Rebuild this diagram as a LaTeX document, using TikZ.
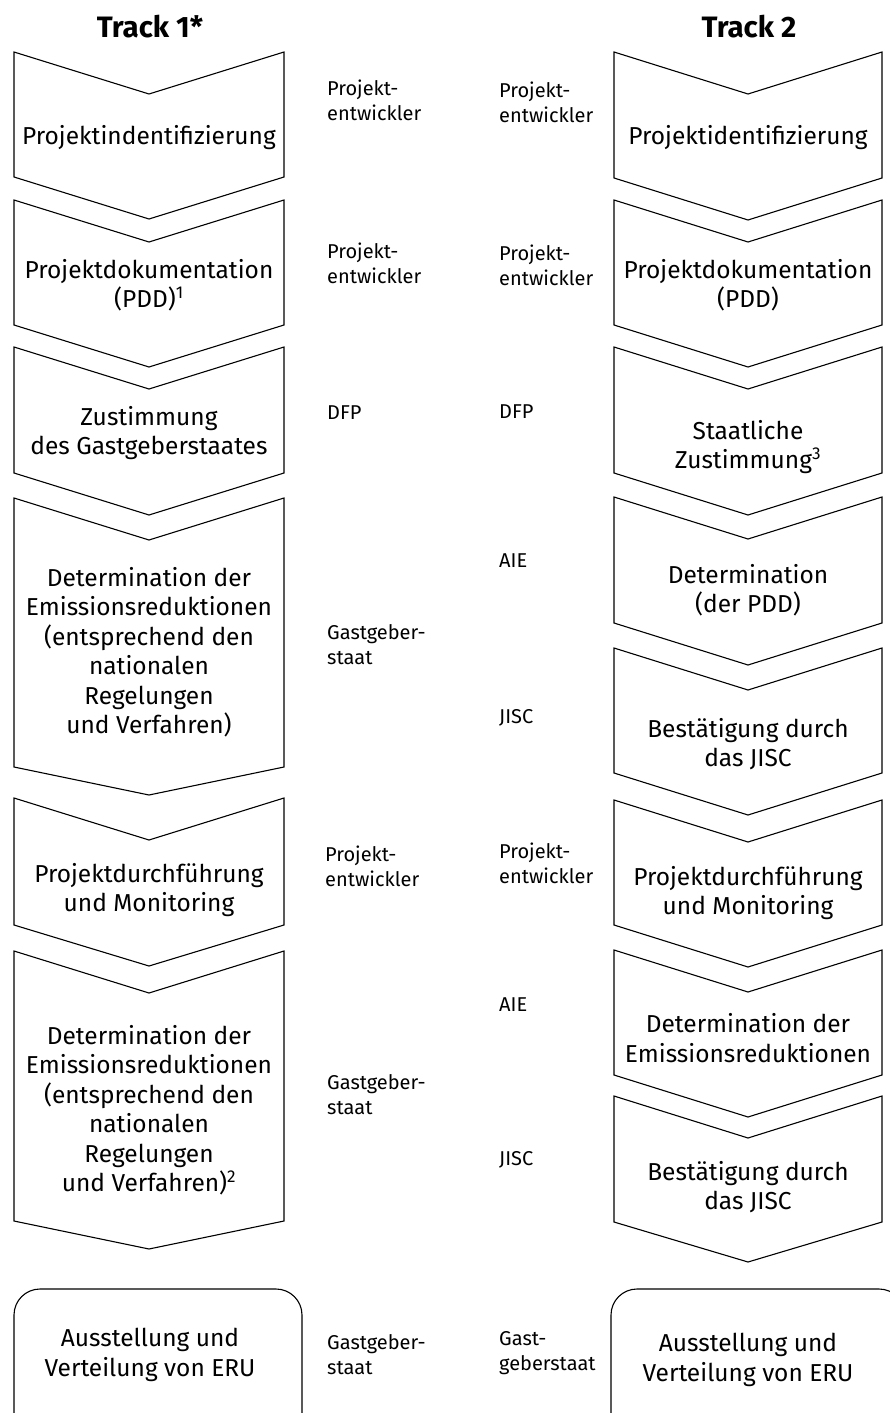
\documentclass[tikz,border=0pt]{standalone}
\usepackage{fontspec}
\setmainfont{Fira Sans}
\begin{document}
\begin{tikzpicture}[x=1pt,y=-1pt,
  stage/.style={draw=black, line width=1.1pt, line join=miter},
  steptext/.style={align=center, font=\fontsize{24.5}{29.5}\selectfont, inner sep=0pt},
  actor/.style={anchor=west, align=left, font=\fontsize{20}{25}\selectfont, inner sep=0pt},
  track/.style={font=\fontsize{29.5}{32}\selectfont\bfseries, inner sep=0pt}]

% #1 name, #2 left x, #3 right x, #4 top y, #5 bottom y, #6 tip depth, #7 text centre y, #8 text
\newcommand\stagebox[8]{%
  \draw[stage] (#2,#4) -- ({(#2+#3)/2},{#4+42}) -- (#3,#4) -- (#3,#5)
    -- ({(#2+#3)/2},{#5+#6}) -- (#2,#5) -- cycle;
  \node[steptext] (#1) at ({(#2+#3)/2},#7) {#8};
}

\useasboundingbox (0,0) rectangle (889,1413);

% column titles
\node[track] (t1) at (150,27) {Track 1*};
\node[track] (t2) at (749,27) {Track 2};

% Track 1
\stagebox{a1}{14}{284}{52}{177}{42}{138}{Projektindentifizierung}
\stagebox{a2}{14}{284}{200}{325}{42}{285}{Projektdokumentation\\(PDD)\textsuperscript{1}}
\stagebox{a3}{14}{284}{347}{473}{42}{433}{Zustimmung\\des Gastgeberstaates}
\stagebox{a4}{14}{284}{498}{767}{28}{652}{Determination der\\Emissionsreduktionen\\(entsprechend den\\nationalen\\Regelungen\\und Verfahren)}
\stagebox{a5}{14}{284}{798}{925}{41}{890}{Projektdurchführung\\und Monitoring}
\stagebox{a6}{14}{284}{951}{1221}{28}{1110}{Determination der\\Emissionsreduktionen\\(entsprechend den\\nationalen\\Regelungen\\und Verfahren)\textsuperscript{2}}
\draw[stage, rounded corners=26] (14,1289) rectangle (302,1450);
\node[steptext] (a7) at (150,1355) {Ausstellung und\\Verteilung von ERU};

% Track 2
\stagebox{b1}{614}{882}{52}{178}{42}{138}{Projektidentifizierung}
\stagebox{b2}{614}{882}{200}{325}{42}{285}{Projektdokumentation\\(PDD)}
\stagebox{b3}{614}{882}{347}{473}{42}{447}{Staatliche\\Zustimmung\textsuperscript{3}}
\stagebox{b4}{614}{882}{497}{623}{42}{590}{Determination\\(der PDD)}
\stagebox{b5}{614}{882}{648}{773}{42}{744}{Bestätigung durch\\das JISC}
\stagebox{b6}{614}{882}{800}{925}{42}{893}{Projektdurchführung\\und Monitoring}
\stagebox{b7}{614}{882}{950}{1075}{42}{1038}{Determination der\\Emissionsreduktionen}
\stagebox{b8}{614}{882}{1096}{1222}{40}{1187}{Bestätigung durch\\das JISC}
\draw[stage, rounded corners=26] (611,1289) rectangle (905,1450);
\node[steptext] (b9) at (748,1360) {Ausstellung und\\Verteilung von ERU};

% responsible parties, Track 1
\node[actor] (p1) at (327,100) {Projekt-\\entwickler};
\node[actor] (p2) at (327,263) {Projekt-\\entwickler};
\node[actor] (p3) at (327,413) {DFP};
\node[actor] (p4) at (327,645) {Gastgeber-\\staat};
\node[actor] (p5) at (325,866) {Projekt-\\entwickler};
\node[actor] (p6) at (327,1095) {Gastgeber-\\staat};
\node[actor] (p7) at (327,1355) {Gastgeber-\\staat};

% responsible parties, Track 2
\node[actor] (q1) at (499,102) {Projekt-\\entwickler};
\node[actor] (q2) at (499,265) {Projekt-\\entwickler};
\node[actor] (q3) at (499,412) {DFP};
\node[actor] (q4) at (499,561) {AIE};
\node[actor] (q5) at (499,718) {JISC};
\node[actor] (q6) at (499,863) {Projekt-\\entwickler};
\node[actor] (q7) at (499,1005) {AIE};
\node[actor] (q8) at (499,1160) {JISC};
\node[actor] (q9) at (499,1353) {Gast-\\geberstaat};
\end{tikzpicture}
\end{document}
